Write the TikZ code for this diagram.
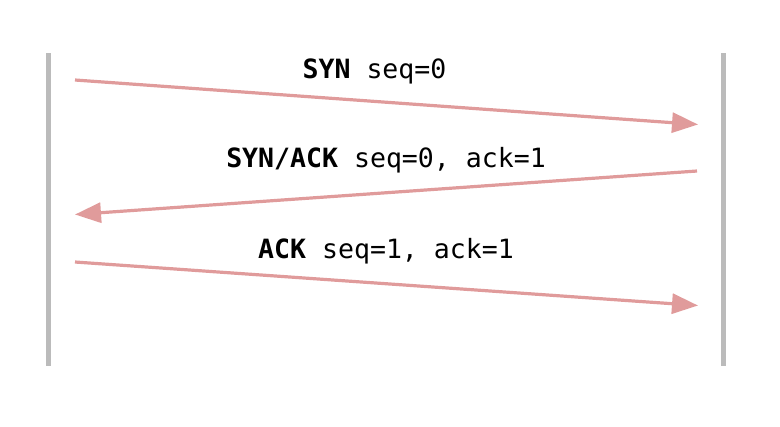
\documentclass[tikz,border=0pt]{standalone}
\usepackage{fontspec}
\setmonofont{DejaVu Sans Mono}
\usepackage{tikz}
\usetikzlibrary{arrows.meta}
\definecolor{lifegray}{HTML}{BBBBBB}
\definecolor{msgred}{HTML}{E09B9B}
\tikzset{
  lifeline/.style={
    line width=3.75pt,
    lifegray
  },
  message/.style={
    line width=2.4pt,
    msgred,
    -{Triangle[length=19.5pt,width=15pt]}
  },
  msglabel/.style={
    font=\ttfamily\fontsize{19.9}{22}\selectfont,
    inner sep=0pt,
    text=black
  }
}

\begin{document}
\begin{tikzpicture}[x=0.75pt,y=-0.75pt]
  % Keep the frame of the reference
  \useasboundingbox (0,0) rectangle (780,426);

  % Lifelines
  \coordinate (client-top) at (48.5,53);
  \coordinate (client-bot) at (48.5,366);
  \coordinate (server-top) at (723.5,53);
  \coordinate (server-bot) at (723.5,366);
  \draw[lifeline] (client-top) -- (client-bot);
  \draw[lifeline] (server-top) -- (server-bot);

  % Message ends
  \coordinate (syn-from) at (75,80);
  \coordinate (syn-to) at (698,124.5);
  \coordinate (synack-from) at (697,171);
  \coordinate (synack-to) at (75,214.5);
  \coordinate (ack-from) at (75,262);
  \coordinate (ack-to) at (698,305.5);

  % Handshake
  \draw[message] (syn-from) -- (syn-to);
  \draw[message] (synack-from) -- (synack-to);
  \draw[message] (ack-from) -- (ack-to);

  % Labels
  \node[msglabel] (syn-label) at (374.5,71) {\textbf{SYN} seq=0};
  \node[msglabel] (synack-label) at (386,160) {\textbf{SYN/ACK} seq=0, ack=1};
  \node[msglabel] (ack-label) at (386,251) {\textbf{ACK} seq=1, ack=1};
\end{tikzpicture}
\end{document}
